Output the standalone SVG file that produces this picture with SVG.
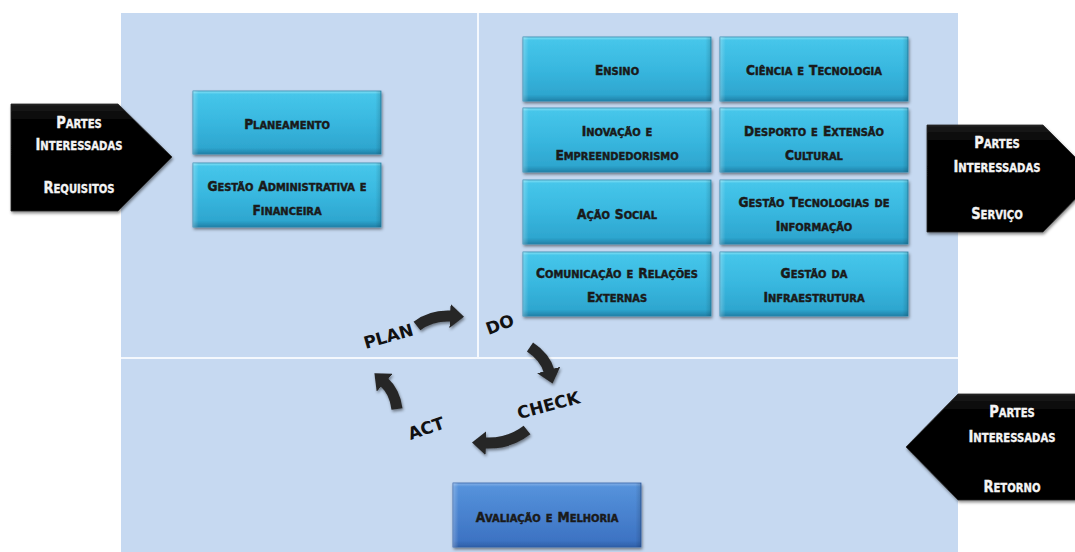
<svg xmlns="http://www.w3.org/2000/svg" width="1075" height="552" viewBox="0 0 1075 552">
<defs>
<style>
.bt{font-family:'DejaVu Sans Condensed','DejaVu Sans',sans-serif;font-stretch:condensed;font-weight:bold;font-variant:small-caps;font-size:16px;fill:#1a1a1a;stroke:#1a1a1a;stroke-width:0.45;text-anchor:middle}
.bt .c{font-size:13.6px}
.wt{font-family:'DejaVu Sans Condensed','DejaVu Sans',sans-serif;font-stretch:condensed;font-weight:bold;font-variant:small-caps;font-size:18px;fill:#f4f4f4;stroke:#f4f4f4;stroke-width:0.35;text-anchor:middle}
.wt .c{font-size:16.5px}
.pd{font-family:'DejaVu Sans','Liberation Sans',sans-serif;font-weight:bold;font-size:17px;fill:#111;text-anchor:middle}
.box{fill:url(#cyan);stroke:#2688ae;stroke-width:0.8;filter:url(#sh)}
.bev{fill:url(#side);stroke:none}
.blk{fill:url(#blkg);stroke:#2a2a2a;stroke-width:0.8;filter:url(#sh)}
.cyc{fill:none;stroke:#262626;stroke-width:11;stroke-linecap:butt;marker-end:url(#head)}
</style>
<linearGradient id="cyan" x1="0" y1="0" x2="0" y2="1">
<stop offset="0" stop-color="#8be3f6"/>
<stop offset="0.05" stop-color="#46c6ea"/>
<stop offset="0.5" stop-color="#38b7df"/>
<stop offset="0.9" stop-color="#2ea6cf"/>
<stop offset="0.96" stop-color="#2690b8"/>
<stop offset="1" stop-color="#1f7fa6"/>
</linearGradient>
<linearGradient id="side" x1="0" y1="0" x2="1" y2="0">
<stop offset="0" stop-color="#ffffff" stop-opacity="0.25"/>
<stop offset="0.03" stop-color="#ffffff" stop-opacity="0"/>
<stop offset="0.97" stop-color="#000000" stop-opacity="0"/>
<stop offset="1" stop-color="#000000" stop-opacity="0.15"/>
</linearGradient>
<linearGradient id="blue" x1="0" y1="0" x2="0" y2="1">
<stop offset="0" stop-color="#86b1e8"/>
<stop offset="0.06" stop-color="#5592db"/>
<stop offset="0.9" stop-color="#3d73c3"/>
<stop offset="1" stop-color="#2f5fa8"/>
</linearGradient>
<linearGradient id="blkg" x1="0" y1="0" x2="0" y2="1">
<stop offset="0" stop-color="#1c1c1c"/>
<stop offset="0.15" stop-color="#050505"/>
<stop offset="1" stop-color="#000"/>
</linearGradient>
<filter id="sh" x="-10%" y="-10%" width="125%" height="130%">
<feDropShadow dx="1" dy="2" stdDeviation="1.5" flood-color="#000" flood-opacity="0.45"/>
</filter>
<marker id="head" markerUnits="userSpaceOnUse" markerWidth="15" markerHeight="24" viewBox="0 0 15 24" refX="1" refY="12" orient="auto">
<path d="M0,0 L14,12 L0,24 Z" fill="#262626"/>
</marker>
</defs>

<g id="background">
<rect x="0" y="0" width="1075" height="552" fill="#ffffff"/>
<rect x="121" y="13" width="837" height="539" fill="#c6d9f1"/>
<line x1="478" y1="13" x2="478" y2="358" stroke="#f4f8fd" stroke-width="2"/>
<line x1="121" y1="358" x2="958" y2="358" stroke="#f4f8fd" stroke-width="2"/>
</g>

<g id="requisitos">
<path class="blk" d="M11,104 L118,104 L172,157 L118,211 L11,211 Z"/>
<text class="wt" transform="translate(79,128) scale(0.88,1)"><tspan class="c">P</tspan>artes</text>
<text class="wt" transform="translate(79,150) scale(0.88,1)"><tspan class="c">I</tspan>nteressadas</text>
<text class="wt" transform="translate(79,193) scale(0.88,1)"><tspan class="c">R</tspan>equisitos</text>
</g>

<g id="servico">
<path class="blk" d="M927,125 L1043,125 L1096,178 L1043,232 L927,232 Z"/>
<text class="wt" transform="translate(997,148) scale(0.88,1)"><tspan class="c">P</tspan>artes</text>
<text class="wt" transform="translate(997,172) scale(0.88,1)"><tspan class="c">I</tspan>nteressadas</text>
<text class="wt" transform="translate(997,219) scale(0.88,1)"><tspan class="c">S</tspan>erviço</text>
</g>

<g id="retorno">
<path class="blk" d="M906,447 L958,394 L1080,394 L1080,500 L958,500 Z"/>
<text class="wt" transform="translate(1012,417) scale(0.88,1)"><tspan class="c">P</tspan>artes</text>
<text class="wt" transform="translate(1012,442) scale(0.88,1)"><tspan class="c">I</tspan>nteressadas</text>
<text class="wt" transform="translate(1012,492) scale(0.88,1)"><tspan class="c">R</tspan>etorno</text>
</g>

<g id="planeamento">
<rect class="box" x="193" y="91" width="188" height="63"/>
<rect class="bev" x="193" y="91" width="188" height="63"/>
<text class="bt" x="287" y="129"><tspan class="c">P</tspan>laneamento</text>
</g>
<g id="gestao-adm">
<rect class="box" x="193" y="163" width="188" height="64"/>
<rect class="bev" x="193" y="163" width="188" height="64"/>
<text class="bt" x="287" y="191"><tspan class="c">G</tspan>estão <tspan class="c">A</tspan>dministrativa e</text>
<text class="bt" x="287" y="215"><tspan class="c">F</tspan>inanceira</text>
</g>

<g id="ensino">
<rect class="box" x="523" y="37" width="188" height="64"/>
<rect class="bev" x="523" y="37" width="188" height="64"/>
<text class="bt" x="617" y="75"><tspan class="c">E</tspan>nsino</text>
</g>
<g id="ciencia">
<rect class="box" x="720" y="37" width="188" height="64"/>
<rect class="bev" x="720" y="37" width="188" height="64"/>
<text class="bt" x="814" y="75"><tspan class="c">C</tspan>iência e <tspan class="c">T</tspan>ecnologia</text>
</g>
<g id="inovacao">
<rect class="box" x="523" y="108" width="188" height="64"/>
<rect class="bev" x="523" y="108" width="188" height="64"/>
<text class="bt" x="617" y="136"><tspan class="c">I</tspan>novação e</text>
<text class="bt" x="617" y="160"><tspan class="c">E</tspan>mpreendedorismo</text>
</g>
<g id="desporto">
<rect class="box" x="720" y="108" width="188" height="64"/>
<rect class="bev" x="720" y="108" width="188" height="64"/>
<text class="bt" x="814" y="136"><tspan class="c">D</tspan>esporto e <tspan class="c">E</tspan>xtensão</text>
<text class="bt" x="814" y="160"><tspan class="c">C</tspan>ultural</text>
</g>
<g id="acao-social">
<rect class="box" x="523" y="180" width="188" height="64"/>
<rect class="bev" x="523" y="180" width="188" height="64"/>
<text class="bt" x="617" y="219"><tspan class="c">A</tspan>ção <tspan class="c">S</tspan>ocial</text>
</g>
<g id="gestao-ti">
<rect class="box" x="720" y="180" width="188" height="64"/>
<rect class="bev" x="720" y="180" width="188" height="64"/>
<text class="bt" x="814" y="207"><tspan class="c">G</tspan>estão <tspan class="c">T</tspan>ecnologias de</text>
<text class="bt" x="814" y="231"><tspan class="c">I</tspan>nformação</text>
</g>
<g id="comunicacao">
<rect class="box" x="523" y="252" width="188" height="64"/>
<rect class="bev" x="523" y="252" width="188" height="64"/>
<text class="bt" x="617" y="278"><tspan class="c">C</tspan>omunicação e <tspan class="c">R</tspan>elações</text>
<text class="bt" x="617" y="302"><tspan class="c">E</tspan>xternas</text>
</g>
<g id="infraestrutura">
<rect class="box" x="720" y="252" width="188" height="64"/>
<rect class="bev" x="720" y="252" width="188" height="64"/>
<text class="bt" x="814" y="278"><tspan class="c">G</tspan>estão da</text>
<text class="bt" x="814" y="302"><tspan class="c">I</tspan>nfraestrutura</text>
</g>

<g id="avaliacao">
<rect x="453" y="483" width="188" height="64" fill="url(#blue)" stroke="#2f5fa8" stroke-width="0.8" filter="url(#sh)"/>
<rect class="bev" x="453" y="483" width="188" height="64"/>
<text class="bt" x="547" y="522"><tspan class="c">A</tspan>valiação e <tspan class="c">M</tspan>elhoria</text>
</g>

<g id="pdca-labels">
<text class="pd" transform="translate(390,342) rotate(-16)">PLAN</text>
<text class="pd" transform="translate(502,330) rotate(-20)">DO</text>
<text class="pd" transform="translate(550,411) rotate(-15)">CHECK</text>
<text class="pd" transform="translate(428,434) rotate(-19)">ACT</text>
</g>

<g id="connectors" filter="url(#sh)">
<path class="cyc" d="M417,326 Q431,315 451,316"/>
<path class="cyc" d="M530,347 Q545,357 549,371"/>
<path class="cyc" d="M527,430 Q509,444 485,443"/>
<path class="cyc" d="M397,409 Q395,392 384,382"/>
</g>
</svg>
